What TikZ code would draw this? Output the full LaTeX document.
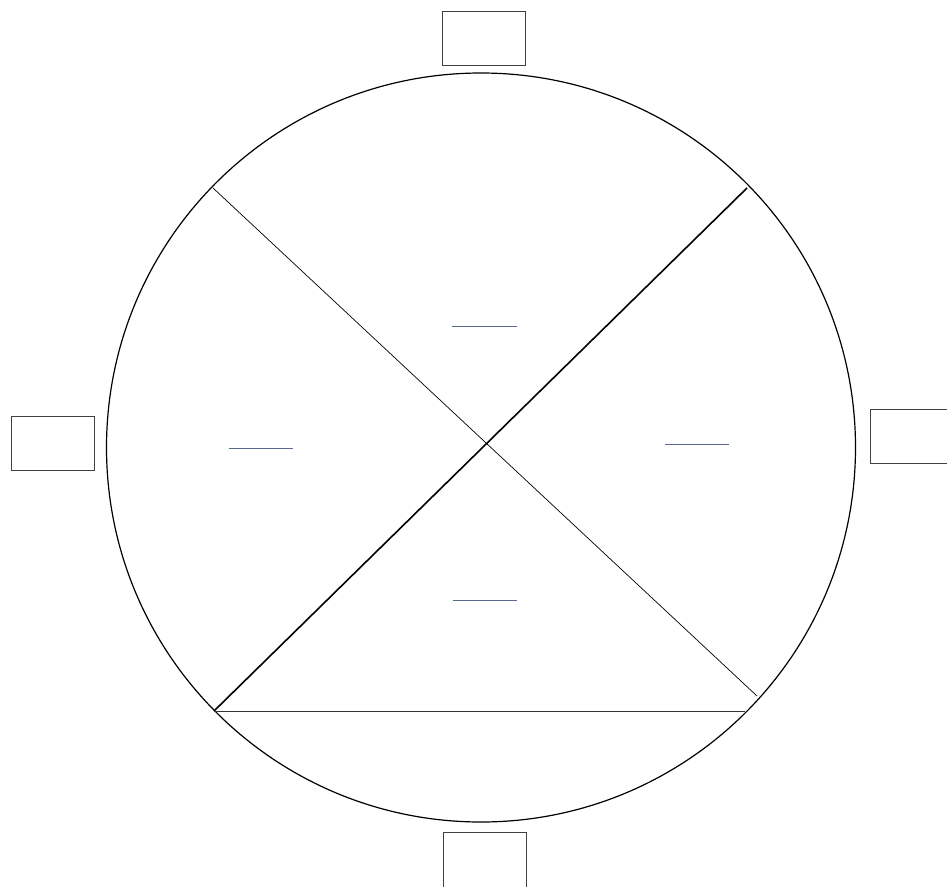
\documentclass[tikz,border=0pt]{standalone}
\usetikzlibrary{calc}
\definecolor{linkblue}{HTML}{5A6A8C}
\begin{document}
\begin{tikzpicture}[x=1pt,y=-1pt,
  box/.style={draw=black!75,line width=0.9pt,minimum width=83pt,minimum height=54pt,inner sep=0pt},
  thinline/.style={line width=0.7pt},
  thickline/.style={line width=1.6pt},
  blank/.style={draw=linkblue,line width=0.8pt}]
\useasboundingbox (0,0) rectangle (947,886);
\node[circle,draw,line width=1.2pt,minimum size=749pt,inner sep=0pt] (c) at (481,447.5) {};
\node[box] (top) at (483.5,38) {};
\node[box] (left) at (52.5,443.5) {};
\node[box] (right) at (911.5,436) {};
\node[box,minimum height=60pt] (bottom) at (484.5,862) {};
\coordinate (ul) at (213,188);
\coordinate (ur) at (747,188);
\coordinate (lr) at (757,696);
\coordinate (ll) at (214,711);
\coordinate (hr) at (745,711);
\draw[thinline] (ul) -- (lr);
\draw[thickline] (ur) -- (ll);
\draw[line width=0.8pt,black!80] (ll) -- (hr);
\coordinate (a1) at (452,326); \coordinate (a2) at (517,326);
\coordinate (b1) at (229,448); \coordinate (b2) at (293,448);
\coordinate (d1) at (665,444); \coordinate (d2) at (729,444);
\coordinate (e1) at (453,600); \coordinate (e2) at (517,600);
\draw[blank] (a1) -- (a2);
\draw[blank] (b1) -- (b2);
\draw[blank] (d1) -- (d2);
\draw[blank] (e1) -- (e2);
\end{tikzpicture}
\end{document}
